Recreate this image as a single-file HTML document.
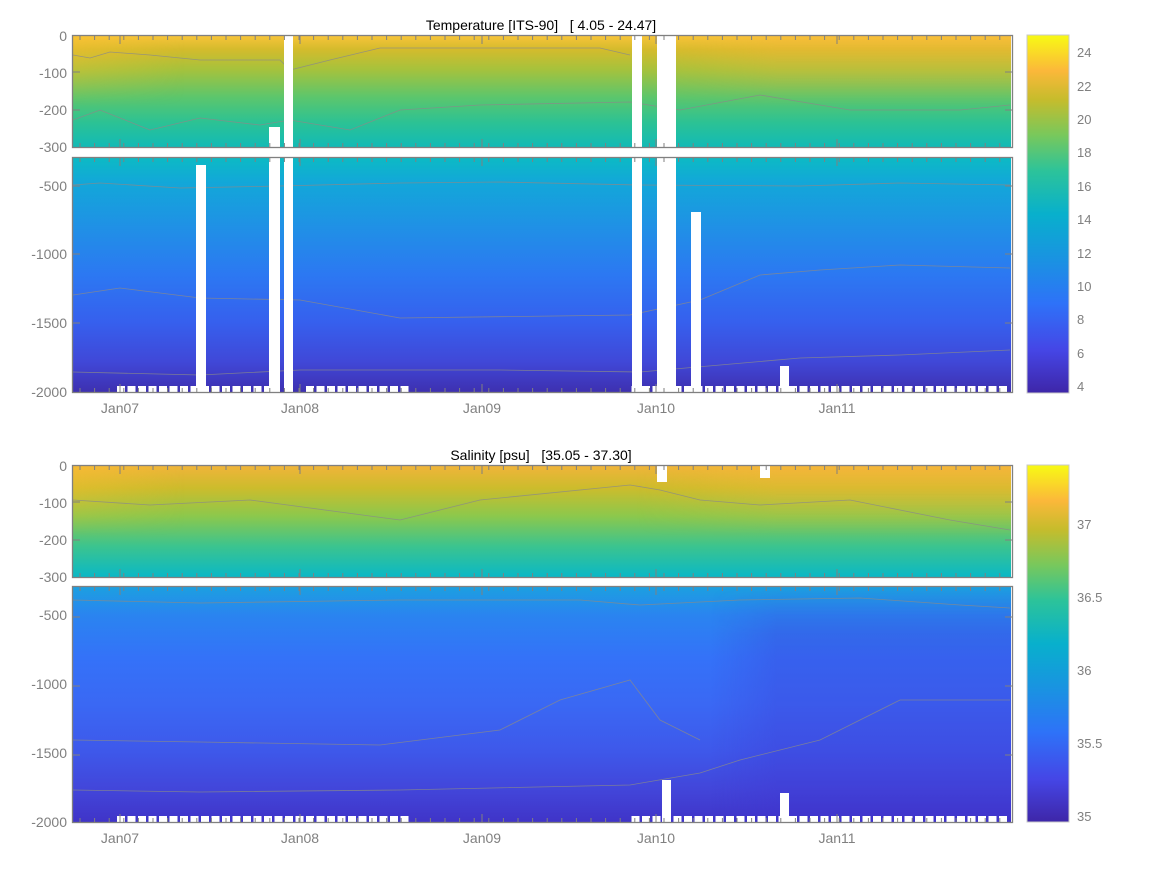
<!DOCTYPE html>
<html><head><meta charset="utf-8"><style>
body{margin:0;background:#fff;}
text{font-family:"Liberation Sans",sans-serif;}
</style></head><body>
<svg id="s" width="1167" height="875" xmlns="http://www.w3.org/2000/svg">
<defs>
<linearGradient id="t1" x1="0" y1="0" x2="0" y2="1">
<stop offset="0" stop-color="#f7c43a"/><stop offset="0.12" stop-color="#d4bb2c"/><stop offset="0.3" stop-color="#a6c23c"/><stop offset="0.55" stop-color="#5cc66c"/><stop offset="0.78" stop-color="#2cc294"/><stop offset="1" stop-color="#12bab6"/></linearGradient>
<linearGradient id="t2" x1="0" y1="0" x2="0" y2="1">
<stop offset="0" stop-color="#0cbac4"/><stop offset="0.1" stop-color="#12a8d8"/><stop offset="0.3" stop-color="#2090e6"/><stop offset="0.5" stop-color="#2c78f2"/><stop offset="0.7" stop-color="#3660ee"/><stop offset="0.87" stop-color="#4048d8"/><stop offset="1" stop-color="#3e30b0"/></linearGradient>
<linearGradient id="s1" x1="0" y1="0" x2="0" y2="1">
<stop offset="0" stop-color="#f0b43a"/><stop offset="0.2" stop-color="#ccbc2c"/><stop offset="0.45" stop-color="#8cc84c"/><stop offset="0.72" stop-color="#3cc48e"/><stop offset="1" stop-color="#0ab8c6"/></linearGradient>
<linearGradient id="s2" x1="0" y1="0" x2="0" y2="1">
<stop offset="0" stop-color="#1ca0e0"/><stop offset="0.12" stop-color="#2a84f0"/><stop offset="0.3" stop-color="#3472f8"/><stop offset="0.5" stop-color="#3a68f4"/><stop offset="0.7" stop-color="#3e58ea"/><stop offset="0.86" stop-color="#4246da"/><stop offset="1" stop-color="#4034c8"/></linearGradient>
<linearGradient id="cb" x1="0" y1="1" x2="0" y2="0">
<stop offset="0" stop-color="#3e26a8"/><stop offset="0.12" stop-color="#4546e6"/><stop offset="0.25" stop-color="#2e72f8"/><stop offset="0.37" stop-color="#1a92e2"/><stop offset="0.5" stop-color="#08b0cc"/><stop offset="0.62" stop-color="#2cc39a"/><stop offset="0.72" stop-color="#78c85c"/><stop offset="0.82" stop-color="#c6bc2c"/><stop offset="0.9" stop-color="#fbb83a"/><stop offset="1" stop-color="#f8fa14"/></linearGradient>
<linearGradient id="hx" x1="0" y1="0" x2="1" y2="0"><stop offset="0" stop-color="#4030d0" stop-opacity="0"/><stop offset="0.68" stop-color="#4030d0" stop-opacity="0"/><stop offset="0.75" stop-color="#4030d0" stop-opacity="0.25"/><stop offset="1" stop-color="#4030d0" stop-opacity="0.25"/></linearGradient>
<linearGradient id="vf" x1="0" y1="0" x2="0" y2="1"><stop offset="0" stop-color="#fff"/><stop offset="0.5" stop-color="#fff" stop-opacity="0.5"/><stop offset="1" stop-color="#fff" stop-opacity="0"/></linearGradient>
<linearGradient id="vf2" x1="0" y1="0" x2="0" y2="1"><stop offset="0" stop-color="#fff" stop-opacity="0"/><stop offset="0.2" stop-color="#fff"/><stop offset="1" stop-color="#fff"/></linearGradient>
<mask id="m1"><rect x="0" y="36" width="1167" height="70" fill="url(#vf)"/></mask>
<mask id="m2"><rect x="0" y="466" width="1167" height="70" fill="url(#vf)"/></mask>
<mask id="m3"><rect x="0" y="587" width="1167" height="235" fill="url(#vf2)"/></mask>
<linearGradient id="ho" x1="0" y1="0" x2="1" y2="0"><stop offset="0" stop-color="#fbc030" stop-opacity="0.5"/><stop offset="0.12" stop-color="#fbc030" stop-opacity="0"/><stop offset="0.6" stop-color="#fbc030" stop-opacity="0"/><stop offset="0.75" stop-color="#fbb83a" stop-opacity="0.45"/><stop offset="1" stop-color="#fbb83a" stop-opacity="0.45"/></linearGradient>
</defs>
<!-- temperature -->
<rect x="73" y="36" width="938" height="111" fill="url(#t1)"/>
<rect x="73" y="36" width="938" height="70" fill="url(#ho)" mask="url(#m1)"/>
<rect x="73" y="158" width="938" height="234" fill="url(#t2)"/>
<g fill="none" stroke="#8a8a8a" stroke-width="0.8" opacity="0.8">
<polyline points="73,55 90,58 110,52 150,55 200,60 280,60 290,70 330,60 380,48 600,48 630,55"/>
<polyline points="73,120 100,110 150,130 200,118 260,125 290,120 350,130 400,110 480,105 630,102 680,110 760,95 850,110 960,110 1010,105"/>
<polyline points="73,185 100,183 180,188 280,186 400,183 500,182 640,185 800,186 900,183 1010,185"/>
<polyline points="73,295 120,288 200,298 300,300 400,318 630,315 700,300 760,275 820,270 900,265 1010,268"/>
<polyline points="73,372 200,375 300,370 500,370 640,372 800,358 900,355 1010,350"/>
</g>
<g fill="#fff">
<rect x="196" y="165" width="10" height="227"/>
<rect x="269" y="127" width="11" height="20"/><rect x="269" y="158" width="11" height="234"/>
<rect x="284" y="36" width="9" height="111"/><rect x="284" y="158" width="9" height="234"/>
<rect x="632" y="36" width="10" height="111"/><rect x="632" y="158" width="10" height="234"/>
<rect x="657" y="36" width="19" height="111"/><rect x="657" y="158" width="19" height="234"/>
<rect x="691" y="212" width="10" height="180"/>
<rect x="780" y="366" width="9" height="26"/>
</g>
<g fill="#fff" id="wb1"></g>
<!-- salinity -->
<rect x="73" y="466" width="938" height="111" fill="url(#s1)"/>
<rect x="73" y="466" width="938" height="70" fill="url(#ho)" mask="url(#m2)"/>
<rect x="73" y="587" width="938" height="235" fill="url(#s2)"/>
<rect x="73" y="587" width="938" height="235" fill="url(#hx)" mask="url(#m3)"/>
<g fill="none" stroke="#8a8a8a" stroke-width="0.8" opacity="0.8">
<polyline points="73,500 150,505 250,500 400,520 480,500 630,485 660,490 700,500 760,505 850,500 950,520 1010,530"/>
<polyline points="73,600 200,603 400,600 580,600 640,605 740,600 860,598 960,605 1010,608"/>
<polyline points="73,740 200,742 380,745 500,730 560,700 630,680 660,720 700,740"/>
<polyline points="73,790 200,792 400,790 630,785 700,773 740,760 820,740 900,700 1010,700"/>
</g>
<g fill="#fff">
<rect x="657" y="466" width="10" height="16"/><rect x="760" y="466" width="10" height="12"/>
<rect x="662" y="780" width="9" height="42"/><rect x="780" y="793" width="9" height="29"/>
</g>
<g fill="#fff" id="wb2"></g>
<!-- axes boxes -->
<g fill="none" stroke="#808080" stroke-width="1.3">
<rect x="72.5" y="35.5" width="940" height="112"/>
<rect x="72.5" y="157.5" width="940" height="235"/>
<rect x="72.5" y="465.5" width="940" height="112"/>
<rect x="72.5" y="586.5" width="940" height="236"/>
</g>
<g id="ticks" stroke="#808080" stroke-width="1"></g>
<!-- colorbars -->
<rect x="1027" y="35" width="42" height="358" fill="url(#cb)" stroke="#c8c8c8"/>
<rect x="1027" y="465" width="42" height="357" fill="url(#cb)" stroke="#c8c8c8"/>
<g font-size="13" fill="#808080">
<g text-anchor="start">
<text x="1077" y="57">24</text><text x="1077" y="91">22</text><text x="1077" y="124">20</text><text x="1077" y="157">18</text><text x="1077" y="191">16</text><text x="1077" y="224">14</text><text x="1077" y="258">12</text><text x="1077" y="291">10</text><text x="1077" y="324">8</text><text x="1077" y="358">6</text><text x="1077" y="391">4</text>
<text x="1077" y="529">37</text><text x="1077" y="602">36.5</text><text x="1077" y="675">36</text><text x="1077" y="748">35.5</text><text x="1077" y="821">35</text>
</g>
<g text-anchor="end" font-size="14">
<text x="67" y="41">0</text><text x="67" y="78">-100</text><text x="67" y="115">-200</text><text x="67" y="152">-300</text>
<text x="67" y="191">-500</text><text x="67" y="259">-1000</text><text x="67" y="328">-1500</text><text x="67" y="397">-2000</text>
<text x="67" y="471">0</text><text x="67" y="508">-100</text><text x="67" y="545">-200</text><text x="67" y="582">-300</text>
<text x="67" y="620">-500</text><text x="67" y="689">-1000</text><text x="67" y="758">-1500</text><text x="67" y="827">-2000</text>
</g>
<g text-anchor="middle" font-size="14">
<text x="120" y="413">Jan07</text><text x="300" y="413">Jan08</text><text x="482" y="413">Jan09</text><text x="656" y="413">Jan10</text><text x="837" y="413">Jan11</text>
<text x="120" y="843">Jan07</text><text x="300" y="843">Jan08</text><text x="482" y="843">Jan09</text><text x="656" y="843">Jan10</text><text x="837" y="843">Jan11</text>
</g>
</g>
<g font-size="14" fill="#000" text-anchor="middle">
<text x="541" y="30" xml:space="preserve">Temperature [ITS-90]   [ 4.05 - 24.47]</text>
<text x="541" y="460" xml:space="preserve">Salinity [psu]   [35.05 - 37.30]</text>
</g>
</svg>
<script>
var NS="http://www.w3.org/2000/svg";
function el(p,t,a){var e=document.createElementNS(NS,t);for(var k in a)e.setAttribute(k,a[k]);document.getElementById(p).appendChild(e);}
var tops=[[36,147],[158,392],[466,577],[587,822]];
tops.forEach(function(r){
 for(var x=80;x<1012;x+=14.6){el("ticks","line",{x1:x,y1:r[0],x2:x,y2:r[0]+4});el("ticks","line",{x1:x,y1:r[1],x2:x,y2:r[1]-4});}
 [120,300,482,656,837].forEach(function(x){el("ticks","line",{x1:x,y1:r[0],x2:x,y2:r[0]+8});el("ticks","line",{x1:x,y1:r[1],x2:x,y2:r[1]-8});});
});
[[72,110],[186,254,323],[502,540],[617,686,755]].forEach(function(a){a.forEach(function(y){el("ticks","line",{x1:73,y1:y,x2:80,y2:y});el("ticks","line",{x1:1012,y1:y,x2:1005,y2:y});});});
[["wb1",386],["wb2",816]].forEach(function(p){
 for(var x=117;x<1005;x+=10.5){ if((x>404&&x<628)||(x>266&&x<296&&p[0]=="wb1"))continue; el(p[0],"rect",{x:x,y:p[1],width:8,height:7});}
});
</script>
</body></html>
